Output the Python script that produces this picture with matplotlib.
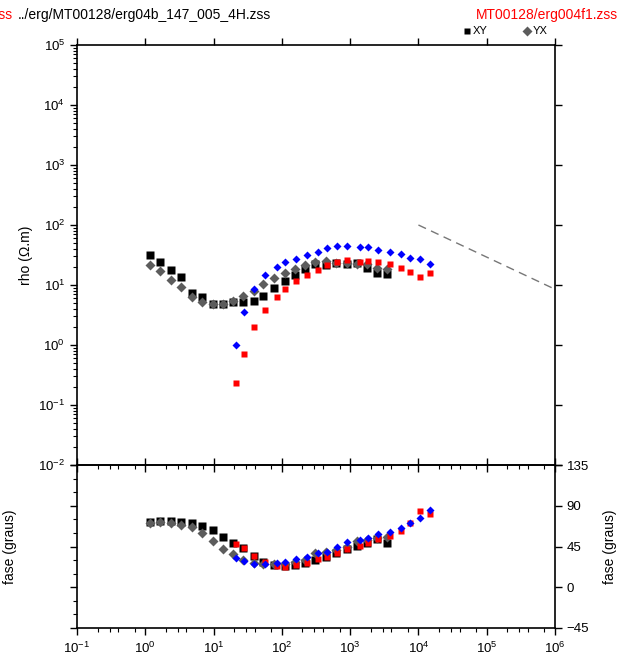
import matplotlib
matplotlib.use('Agg')
import matplotlib.pyplot as plt
from matplotlib.ticker import LogLocator, FixedLocator, NullFormatter, LogFormatterSciNotation, MultipleLocator
from matplotlib.lines import Line2D

plt.rcParams['font.family'] = ['Liberation Sans', 'DejaVu Sans']
plt.rcParams['mathtext.default'] = 'regular'

# ---- measured data (XY black squares, YX gray diamonds) ----
freq_data = [1.17, 1.66, 2.35, 3.30, 4.83, 6.76, 9.7, 13.6, 19.4, 27.2, 39.0, 53.4,
             76.6, 110, 157, 220, 308, 442, 620, 889, 1245, 1745, 2496, 3492]
rho_xy = [31.6, 24.5, 17.8, 13.4, 7.45, 6.2, 4.9, 4.8, 5.2, 5.25, 5.5, 6.6,
          8.9, 11.7, 14.7, 18.5, 22.1, 21.3, 23.6, 22.4, 23.6, 19.0, 15.7, 15.2]
rho_yx = [21.5, 17.1, 12.1, 9.4, 6.2, 5.2, 4.77, 4.77, 5.5, 6.6, 8.0, 10.3,
          13.2, 15.7, 18.5, 21.5, 24.5, 24.8, 22.9, 22.9, 22.1, 22.1, 19.0, 18.2]
phase_xy = [72.5, 73.2, 73.5, 72.4, 70.6, 67.6, 62.9, 55.8, 49.2, 43.0, 34.5, 28.2,
            24.6, 23.5, 24.6, 26.4, 30.1, 33.7, 38.2, 41.9, 45.5, 49.2, 52.9, 49.2]
phase_yx = [71.3, 72.1, 71.3, 68.7, 66.2, 60.2, 51.1, 42.2, 36.4, 30.5, 27.0, 25.5,
            25.7, 25.5, 27.5, 30.5, 37.5, 38.5, 41.5, 45.0, 51.1, 52.0, 54.0, 55.8]

# ---- model response (XY red squares, YX blue diamonds) ----
freq_model = [21.1, 28.1, 39.4, 56, 85.6, 112, 161, 231, 341, 457, 641, 907,
              1393, 1842, 2578, 3785, 5543, 7432, 10520, 14890]
rho_model_xy = [0.233, 0.71, 1.97, 3.83, 6.4, 8.6, 11.5, 14.9, 18.0, 21.3, 24.2, 25.8,
                24.5, 24.8, 23.9, 22.1, 19.2, 16.5, 13.4, 15.7]
rho_model_yx = [1.01, 3.5, 8.6, 14.5, 20.0, 23.9, 27.4, 31.2, 35.5, 41.9, 44.7, 45.2,
                42.4, 43.6, 37.9, 35.1, 32.4, 28.2, 27.1, 22.6]
phase_model_xy = [47.4, 43.7, 34.8, 28.2, 23.5, 22.7, 24.6, 27.1, 31.2, 33.1, 38.2, 41.9,
                  45.9, 49.2, 52.9, 56.9, 62.1, 71.3, 84.2, 80.6]
phase_model_yx = [32.0, 29.4, 25.7, 25.7, 27.1, 28.2, 30.8, 33.7, 37.5, 39.3, 44.8, 49.6,
                  52.2, 54.1, 58.5, 61.4, 65.8, 71.3, 76.8, 85.3]

# ---- reference slope line ----
slope_freq = [1e4, 1e6]
slope_rho = [100, 8.5]

W, H = 632, 655
fig = plt.figure(figsize=(W / 100, H / 100), dpi=100)
left, width = 77 / W, 478 / W
ax1 = fig.add_axes([left, 1 - 465 / H, width, 420 / H])
ax2 = fig.add_axes([left, 1 - 628 / H, width, 163 / H])
ax2.patch.set_facecolor('none')

gray = '#5c5c5c'
for ax in (ax1, ax2):
    ax.set_xscale('log')
    ax.set_xlim(1e-1, 1e6)
    for s in ax.spines.values():
        s.set_linewidth(1.2)
    ax.xaxis.set_major_locator(LogLocator(base=10, numticks=20))
    ax.xaxis.set_minor_locator(LogLocator(base=10, subs=(2, 3, 4, 7), numticks=20))
    ax.xaxis.set_minor_formatter(NullFormatter())
    ax.tick_params(which='major', length=5, width=1.0, direction='out', labelsize=9.5)
    ax.tick_params(which='minor', length=3, width=0.8, direction='out')
    ax.tick_params(axis='x', top=True, bottom=True)
    ax.tick_params(axis='y', left=True, right=True)

# top panel: apparent resistivity
ax1.set_yscale('log')
ax1.set_ylim(1e-2, 1e5)
ax1.yaxis.set_major_locator(LogLocator(base=10, numticks=20))
ax1.yaxis.set_major_formatter(LogFormatterSciNotation())
ax1.yaxis.set_minor_locator(LogLocator(base=10, subs=tuple(range(2, 10)), numticks=20))
ax1.yaxis.set_minor_formatter(NullFormatter())
ax1.tick_params(axis='x', labelbottom=False)
ax1.set_ylabel('rho (\u03a9.m)', fontsize=10, labelpad=4)

ax1.plot(freq_data, rho_xy, 's', color='black', ms=6, mec='none', clip_on=False)
ax1.plot(freq_data, rho_yx, 'D', color=gray, ms=5.5, mec='none', clip_on=False)
ax1.plot(freq_model, rho_model_xy, 's', color='#ff0000', ms=4.2, mec='none')
ax1.plot(freq_model, rho_model_yx, 'D', color='#0000ff', ms=4.2, mec='none')
ax1.plot(slope_freq, slope_rho, '--', color='#777777', lw=1.0, dashes=(6, 4))

# bottom panel: phase
ax2.set_ylim(-45, 135)
ax2.yaxis.set_major_locator(FixedLocator([-45, 0, 45, 90, 135]))
ax2.yaxis.set_minor_locator(MultipleLocator(15))
ax2.tick_params(axis='y', labelleft=False, labelright=True)
ax2.xaxis.set_major_formatter(LogFormatterSciNotation())
ax2.tick_params(axis='x', labeltop=False, labelbottom=True, pad=4)

ax2.plot(freq_data, phase_xy, 's', color='black', ms=6, mec='none')
ax2.plot(freq_data, phase_yx, 'D', color=gray, ms=5.5, mec='none')
ax2.plot(freq_model, phase_model_xy, 's', color='#ff0000', ms=4.2, mec='none')
ax2.plot(freq_model, phase_model_yx, 'D', color='#0000ff', ms=4.2, mec='none')

# phase labels on both sides
fig.text(10 / W, 1 - 547 / H, 'fase (graus)', rotation=90, ha='center', va='center', fontsize=10)
fig.text(610 / W, 1 - 547 / H, 'fase (graus)', rotation=90, ha='center', va='center', fontsize=10)

# titles
fig.text(18 / W, 1 - 15 / H, '../erg/MT00128/erg04b_147_005_4H.zss', ha='left', va='center', fontsize=10)
fig.text(13 / W, 1 - 15 / H, 'MT00128/erg004f1.zss', ha='right', va='center', fontsize=10, color='#ff0000')
fig.text(618 / W, 1 - 15 / H, 'MT00128/erg004f1.zss', ha='right', va='center', fontsize=10, color='#ff0000')

# legend
fig.add_artist(Line2D([467 / W], [1 - 31 / H], marker='s', color='black', ms=5, mec='none', transform=fig.transFigure))
fig.text(473 / W, 1 - 31 / H, 'XY', ha='left', va='center', fontsize=8)
fig.add_artist(Line2D([527 / W], [1 - 31 / H], marker='D', color=gray, ms=5, mec='none', transform=fig.transFigure))
fig.text(533 / W, 1 - 31 / H, 'YX', ha='left', va='center', fontsize=8)

fig.savefig('out.png', dpi=100)
